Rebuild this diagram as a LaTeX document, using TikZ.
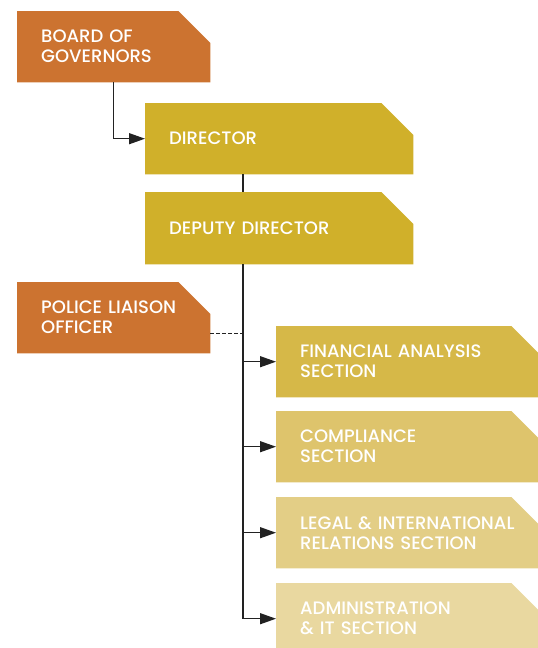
\documentclass[tikz,border=0pt]{standalone}
\usepackage{fontspec}
\newfontfamily\boxfont{Poppins}[UprightFont=* Medium]
\usetikzlibrary{arrows.meta,backgrounds}
\definecolor{govorange}{RGB}{204,115,48}
\definecolor{dirgold}{RGB}{208,176,42}
\definecolor{fingold}{RGB}{214,184,72}
\definecolor{compgold}{RGB}{222,196,108}
\definecolor{legalgold}{RGB}{227,206,134}
\definecolor{admingold}{RGB}{233,216,160}
\definecolor{linkgray}{RGB}{34,34,34}
\begin{document}
\begin{tikzpicture}[x=1pt,y=-1pt,
    orgbox/.style={anchor=north west,inner xsep=24pt,inner ysep=0pt,align=left,
      text=white,font=\boxfont\fontsize{18}{20}\selectfont,minimum height=71pt},
    link/.style={line width=1.3pt,linkgray,-{Triangle[length=16pt,width=11pt]}},
    trunk/.style={line width=1.3pt,linkgray},
    liaison/.style={line width=1.4pt,linkgray,dash pattern=on 3.5pt off 2.5pt}]
    \def\cut{32pt}
    \def\spinex{98pt}

    \useasboundingbox (0,0) rectangle (538,648);

    % boxes
    \node[orgbox,text width=145pt] (board) at (17,11) {BOARD OF\\GOVERNORS};
    \node[orgbox,text width=220pt] (dir) at (145,103) {DIRECTOR};
    \node[orgbox,text width=220pt,minimum height=72pt] (dep) at (145,192) {DEPUTY DIRECTOR};
    \node[orgbox,text width=145pt] (police) at (17,282) {POLICE LIAISON\\OFFICER};
    \node[orgbox,text width=219pt] (fin) at (276,326) {FINANCIAL ANALYSIS\\SECTION};
    \node[orgbox,text width=219pt] (comp) at (276,411) {COMPLIANCE\\SECTION};
    \node[orgbox,text width=219pt] (legal) at (276,497) {LEGAL \& INTERNATIONAL\\RELATIONS SECTION};
    \node[orgbox,text width=219pt] (admin) at (276,583) {ADMINISTRATION\\\& IT SECTION};

    % cut corner fills
    \begin{scope}[on background layer]
        \foreach \n/\c in {board/govorange,dir/dirgold,dep/dirgold,police/govorange,
                           fin/fingold,comp/compgold,legal/legalgold,admin/admingold}
            \fill[\c] (\n.south west) |- ([xshift=-\cut]\n.north east)
                -- ([yshift=-\cut]\n.north east) -- (\n.south east) -- cycle;
    \end{scope}

    % connectors
    \draw[link] (board.south) |- (dir.west);
    \coordinate (spine) at ([xshift=\spinex]dir.south west);
    \draw[trunk] (spine) -- (spine |- dep.north);
    \coordinate (split) at ([xshift=\spinex]dep.south west);
    \foreach \n in {fin,comp,legal,admin}
        \draw[link] (split) |- (\n.west);
    \coordinate (pl) at ([yshift=20pt]police.south east);
    \draw[liaison] (pl) -- (pl -| split);
\end{tikzpicture}
\end{document}
